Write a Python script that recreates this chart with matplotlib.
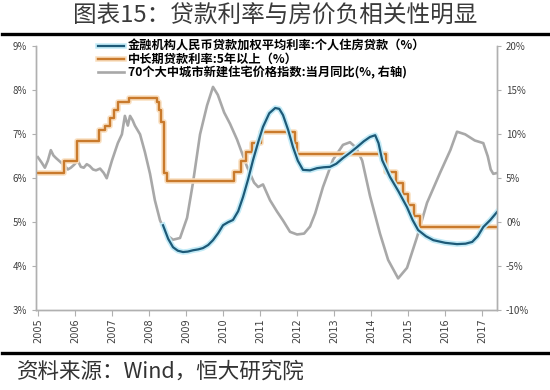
import numpy as np
import matplotlib
matplotlib.use("Agg")
import matplotlib.pyplot as plt
import matplotlib.patheffects as pe
from matplotlib.lines import Line2D

plt.rcParams['font.family'] = ['Noto Sans CJK SC', 'DejaVu Sans']

# ---- data (x = fractional year) ----
# benchmark 5y+ loan rate, change dates
rate_t = [2005.45, 2006.20, 2006.57, 2007.15, 2007.30, 2007.46, 2007.56, 2007.66, 2007.97,
          2008.71, 2008.77, 2008.83, 2008.91, 2008.98, 2010.80, 2010.98, 2011.11, 2011.27,
          2011.52, 2012.44, 2012.51, 2014.90, 2015.17, 2015.36, 2015.49, 2015.65, 2015.81, 2017.88]
rate_v = [6.12, 6.39, 6.84, 7.11, 7.20, 7.38, 7.56, 7.74, 7.83,
          7.74, 7.56, 7.29, 6.12, 5.94, 6.14, 6.40, 6.60, 6.80,
          7.05, 6.80, 6.55, 6.15, 5.90, 5.65, 5.40, 5.15, 4.90, 4.90]

# weighted avg rate, personal housing loans
loan_t = [2008.88, 2009.02, 2009.15, 2009.28, 2009.42, 2009.55, 2009.69, 2009.83, 2009.96,
          2010.10, 2010.23, 2010.37, 2010.50, 2010.64, 2010.77, 2010.91, 2011.04, 2011.18,
          2011.31, 2011.45, 2011.58, 2011.75, 2011.91, 2012.02, 2012.12, 2012.26, 2012.39,
          2012.52, 2012.66, 2012.85, 2013.04, 2013.22, 2013.39, 2013.56, 2013.74, 2013.93,
          2014.12, 2014.30, 2014.47, 2014.61, 2014.70, 2014.80, 2015.01, 2015.24, 2015.47,
          2015.62, 2015.77, 2015.98, 2016.18, 2016.50, 2016.82, 2017.05, 2017.23, 2017.38,
          2017.53, 2017.72, 2017.90]
loan_v = [4.93, 4.62, 4.43, 4.35, 4.32, 4.33, 4.36, 4.38, 4.41,
          4.48, 4.59, 4.75, 4.93, 5.00, 5.05, 5.25, 5.57, 5.98,
          6.41, 6.82, 7.17, 7.48, 7.60, 7.58, 7.44, 7.10, 6.71,
          6.40, 6.19, 6.18, 6.23, 6.25, 6.26, 6.33, 6.46, 6.58,
          6.71, 6.84, 6.94, 6.98, 6.80, 6.41, 6.03, 5.70, 5.34,
          5.05, 4.82, 4.68, 4.59, 4.53, 4.50, 4.51, 4.55, 4.68,
          4.89, 5.05, 5.23]

# 70-city new home price index, yoy (right axis)
hp_t = [2005.50, 2005.60, 2005.69, 2005.77, 2005.85, 2005.92, 2005.99, 2006.07, 2006.15,
        2006.23, 2006.31, 2006.39, 2006.47, 2006.58, 2006.66, 2006.74, 2006.82, 2006.90,
        2006.99, 2007.07, 2007.18, 2007.28, 2007.36, 2007.43, 2007.50, 2007.58, 2007.66,
        2007.77, 2007.85, 2007.93, 2007.99, 2008.06, 2008.12, 2008.26, 2008.39, 2008.53,
        2008.66, 2008.80, 2008.99, 2009.15, 2009.34, 2009.53, 2009.69, 2009.88, 2010.07,
        2010.23, 2010.36, 2010.53, 2010.69, 2010.88, 2011.15, 2011.34, 2011.45, 2011.58,
        2011.77, 2011.96, 2012.12, 2012.31, 2012.50, 2012.69, 2012.85, 2012.99, 2013.20,
        2013.47, 2013.74, 2013.93, 2014.09, 2014.26, 2014.47, 2014.74, 2014.96, 2015.23,
        2015.47, 2015.74, 2016.01, 2016.36, 2016.64, 2016.82, 2017.04, 2017.30, 2017.53,
        2017.65, 2017.73, 2017.80, 2017.90]
hp_v = [7.4, 6.8, 6.2, 7.0, 8.2, 7.6, 7.3, 7.0, 6.7,
        6.4, 6.0, 6.2, 6.5, 7.0, 6.3, 6.2, 6.6, 6.4,
        6.0, 5.9, 6.1, 5.6, 5.0, 6.0, 7.0, 8.0, 9.0,
        10.0, 12.1, 11.0, 12.1, 11.6, 11.0, 10.0, 8.0, 5.5,
        2.5, 0.2, -1.5, -2.0, -1.8, 0.5, 4.5, 10.0, 13.3,
        15.4, 14.5, 12.5, 11.2, 9.4, 6.3, 4.5, 4.0, 4.3,
        2.5, 1.2, 0.2, -1.1, -1.4, -1.3, -0.5, 1.0, 4.0,
        7.1, 8.8, 9.1, 8.5, 7.0, 3.0, -1.3, -4.3, -6.4,
        -5.2, -1.7, 2.2, 5.6, 8.2, 10.3, 10.0, 9.3, 9.0,
        7.5, 6.0, 5.5, 5.6]

years = list(range(2005, 2018))
labels = ["金融机构人民币贷款加权平均利率:个人住房贷款（%）",
          "中长期贷款利率:5年以上（%）",
          "70个大中城市新建住宅价格指数:当月同比(%, 右轴)"]

c_blue, c_orange, c_gray = "#1d5a78", "#c97a2c", "#a8a8a8"

fig = plt.figure(figsize=(5.5, 3.9), dpi=100)
ax = fig.add_axes([36/550, 1-310/390, 461/550, 263.5/390])
ax2 = ax.twinx()

l3, = ax2.plot(hp_t, hp_v, color=c_gray, lw=1.9, zorder=1)
l2, = ax.plot(rate_t, rate_v, color=c_orange, lw=1.7, drawstyle="steps-post",
              path_effects=[pe.Stroke(linewidth=4, foreground="#f9dfc0"), pe.Normal()])
l1, = ax.plot(loan_t, loan_v, color=c_blue, lw=1.6,
              path_effects=[pe.Stroke(linewidth=4, foreground="#c3ebf7"), pe.Normal()])
ax.set_zorder(ax2.get_zorder() + 1)
ax.patch.set_visible(False)

ax.set_xlim(2005.45, 2017.9)
ax.set_ylim(3, 9)
ax2.set_ylim(-10, 20)
ax.set_yticks(range(3, 10))
ax.set_yticklabels([f"{v}%" for v in range(3, 10)])
ax2.set_yticks(range(-10, 21, 5))
ax2.set_yticklabels([f"{v}%" for v in range(-10, 21, 5)])
ax.set_xticks([y + 0.5 for y in years])
ax.set_xticklabels([str(y) for y in years], rotation=90, fontsize=6.5, color="#404040",
                   family="DejaVu Sans")

for a in (ax, ax2):
    for s in a.spines.values():
        s.set_color("#b0b0b0")
        s.set_linewidth(1.0)
    a.spines["top"].set_visible(False)
    a.tick_params(colors="#b0b0b0", labelcolor="#404040", labelsize=7, length=3, width=0.8)
ax.tick_params(axis="x", length=4, pad=2)

leg = ax.legend([l1, l2, l3], labels, loc="upper left", bbox_to_anchor=(0.135, 1.025),
                frameon=False, handlelength=2.1, handletextpad=0.3, labelspacing=0.0,
                borderpad=0, borderaxespad=0,
                prop={"family": ["Noto Sans CJK SC", "DejaVu Sans"], "size": 8.8, "weight": "bold"})

fig.text(0.5, 1-16/390, "图表15：贷款利率与房价负相关性明显", ha="center", va="center",
         fontsize=17, color="#3a3a3a")
fig.add_artist(Line2D([0.004, 0.996], [1-34/390, 1-34/390], color="black", lw=2.4))
fig.add_artist(Line2D([0.004, 0.996], [1-353/390, 1-353/390], color="black", lw=2.4))
fig.text(0.03, 1-372/390, "资料来源：Wind，恒大研究院", ha="left", va="center",
         fontsize=15.5, color="#333333", style="italic")

fig.savefig("out.png", dpi=100)
